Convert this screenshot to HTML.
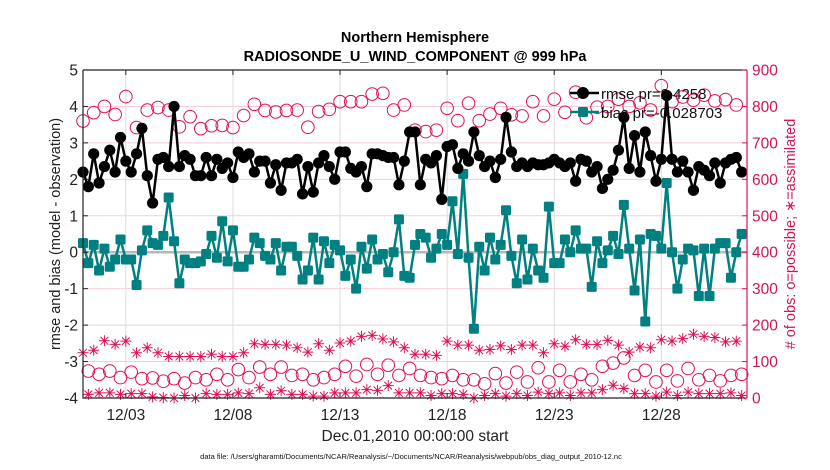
<!DOCTYPE html>
<html><head><meta charset="utf-8"><style>
html,body{margin:0;padding:0;background:#fff;}
svg{display:block;font-family:"Liberation Sans",sans-serif;}
</style></head><body>
<svg width="830" height="470" viewBox="0 0 830 470" id="chart">
<script>
// data (values only)
const xTickLabels=["12/03","12/08","12/13","12/18","12/23","12/28"];
const xTickDays=[3,8,13,18,23,28];
const yTicksLeft=[-4,-3,-2,-1,0,1,2,3,4,5];
const yTicksRight=[0,100,200,300,400,500,600,700,800,900];
const rmse=[2.2,1.8,2.7,1.9,2.35,2.8,2.2,3.15,2.5,2.2,2.7,3.4,2.1,1.35,2.55,2.6,2.35,4.0,2.35,2.65,2.55,2.1,2.1,2.6,2.1,2.55,2.3,2.45,2.05,2.75,2.6,2.7,2.2,2.5,2.5,1.9,2.4,1.7,2.45,
2.45,2.55,1.6,2.35,1.65,2.45,2.65,2.35,2.0,2.75,2.75,2.3,2.2,2.35,1.8,2.7,2.7,2.65,2.6,2.6,1.85,2.5,3.3,3.3,1.85,2.55,2.45,2.65,1.45,2.9,2.95,2.3,2.7,2.5,3.3,2.65,2.35,2.5,2.05,2.55,3.7,2.75,2.35,
2.45,2.35,2.45,2.4,2.4,2.45,2.55,2.45,2.35,2.45,1.95,2.55,2.5,2.2,2.35,1.75,2.0,2.25,2.8,3.7,2.3,3.2,2.2,3.3,2.65,1.95,2.55,4.3,2.55,2.2,2.5,2.2,1.7,2.35,2.25,2.1,2.45,1.9,2.45,2.55,2.6,2.2];
const bias=[0.25,-0.3,0.2,-0.5,0.1,-0.4,-0.2,0.35,-0.2,-0.2,-0.9,0.05,0.6,0.25,0.2,0.45,1.5,0.3,-0.85,-0.2,-0.3,-0.3,-0.25,-0.05,0.45,-0.15,0.85,-0.25,0.6,-0.4,-0.4,-0.2,0.4,0.25,-0.1,-0.2,0.25,-0.5,0.15,
0.15,-0.1,-0.75,-0.5,0.4,-0.75,0.3,-0.3,0.2,0.05,-0.65,-0.2,-1.0,0.15,-0.45,0.35,-0.2,-0.05,-0.55,0.0,0.9,-0.65,-0.7,0.2,0.5,0.4,-0.15,0.1,0.5,0.2,1.4,-0.05,2.15,-0.15,-2.1,0.15,-0.5,0.4,-0.2,0.2,1.15,-0.1,-0.85,
0.35,-0.75,0.1,-0.5,-0.7,1.25,-0.3,-0.3,0.35,0.0,0.6,0.1,0.1,-0.95,0.3,-0.3,0.05,0.45,-0.05,1.3,0.1,-1.05,0.35,-1.9,0.5,0.45,0.1,1.9,0.0,-1.0,-0.2,0.1,0.05,-1.2,0.1,-1.2,0.1,0.25,0.25,-0.7,0.0,0.5];
// counts at 00Z/12Z (even steps) and 06Z/18Z (odd steps)
const possibleSynoptic=[760,783,800,778,827,742,790,797,790,744,772,739,747,748,742,775,806,789,785,789,
790,743,786,792,813,813,813,834,836,790,804,735,731,735,795,761,809,761,779,795,777,
774,813,774,820,784,839,769,798,800,820,800,810,790,857,813,826,817,831,815,819,804];
const possibleOff=[74,65,74,56,71,53,55,46,53,41,56,50,65,50,78,56,85,65,85,
62,65,50,56,65,87,60,92,65,90,62,81,62,56,53,62,50,50,39,67,41,71,
44,83,44,76,44,65,50,87,96,110,62,76,44,76,47,81,50,62,47,62,65];
const assimSynoptic=[124,131,157,147,156,124,138,124,114,114,114,114,120,114,114,124,149,147,147,145,
138,126,149,131,151,156,169,172,162,154,138,120,120,117,156,145,145,131,133,143,133,
145,145,124,149,142,160,147,147,158,145,126,140,138,160,156,163,175,169,166,154,156];
const assimOff=[10,14,14,10,12,12,3,1,0,7,0,12,10,10,14,12,28,10,20,
10,10,5,5,14,14,14,23,21,34,14,14,14,7,12,12,10,0,7,12,5,12,
7,16,12,14,7,14,14,23,35,26,12,12,5,16,7,16,12,12,12,14,7];
</script>
<g id="g-grid"></g>
<g id="g-series"></g>
<g id="g-axes"></g>
<text x="415" y="42" text-anchor="middle" font-size="14.5" font-weight="bold">Northern Hemisphere</text>
<text x="415" y="61" text-anchor="middle" font-size="14.5" font-weight="bold">RADIOSONDE_U_WIND_COMPONENT @ 999 hPa</text>
<text transform="translate(60,234) rotate(-90)" text-anchor="middle" font-size="14.5" fill="#222">rmse and bias (model - observation)</text>
<text transform="translate(795,234) rotate(-90)" text-anchor="middle" font-size="14.5" fill="#d4145a"># of obs: o=possible; ∗=assimilated</text>
<text x="415" y="441" text-anchor="middle" font-size="15.5" fill="#222">Dec.01,2010 00:00:00 start</text>
<text x="411" y="459" text-anchor="middle" font-size="7.5" fill="#111">data file: /Users/gharamti/Documents/NCAR/Reanalysis/~/Documents/NCAR/Reanalysis/webpub/obs_diag_output_2010-12.nc</text>
<g id="g-marks-dummy"></g>
<script>
const NS="http://www.w3.org/2000/svg";
const L=83,R=747,T=70,B=398;
const xs=d=>L+(d-1)*(R-L)/31;          // d = fractional day of December
const yl=v=>B-(v+4)*(B-T)/9;
const yr=v=>B-v*(B-T)/900;
const stepDay=i=>1+i*0.25;
function mk(tag,attrs,parent){const e=document.createElementNS(NS,tag);for(const k in attrs)e.setAttribute(k,attrs[k]);parent.appendChild(e);return e;}
const grid=document.getElementById('g-grid'),ser=document.getElementById('g-series'),ax=document.getElementById('g-axes');
mk('rect',{x:L,y:T,width:R-L,height:B-T,fill:'#fff'},grid);
yTicksRight.forEach(v=>{const l=mk('line',{x1:L,x2:R,y1:yr(v),y2:yr(v),stroke:'#f3cfdd','stroke-width':1},grid);

});
xTickDays.forEach(d=>{const l=mk('line',{x1:xs(d),x2:xs(d),y1:T,y2:B,stroke:'#dcdcdc','stroke-width':1},grid);

});
const z=mk('line',{x1:L,x2:R,y1:yl(0),y2:yl(0),stroke:'#b8b8b8','stroke-width':2.5},grid);


function star(cx,cy,g){const r=5.5;let d='';for(let k=0;k<4;k++){const a=k*Math.PI/4;d+=`M${cx-r*Math.cos(a)},${cy-r*Math.sin(a)}L${cx+r*Math.cos(a)},${cy+r*Math.sin(a)}`;}
const p=mk('path',{d:d,stroke:'#e0105a','stroke-width':1,fill:'none'},g);

}
function ring(cx,cy,g){const c=mk('circle',{cx:cx,cy:cy,r:6.3,fill:'none',stroke:'#e0105a','stroke-width':1},g);

}
possibleSynoptic.forEach((v,j)=>ring(xs(stepDay(2*j)),yr(v),ser));
possibleOff.forEach((v,j)=>ring(xs(stepDay(2*j+1)),yr(v),ser));
assimSynoptic.forEach((v,j)=>star(xs(stepDay(2*j)),yr(v),ser));
assimOff.forEach((v,j)=>star(xs(stepDay(2*j+1)),yr(v),ser));
const bp=mk('polyline',{points:bias.map((v,i)=>xs(stepDay(i))+','+yl(v)).join(' '),fill:'none',stroke:'#008080','stroke-width':2.5,'stroke-linejoin':'round'},ser);


bias.forEach((v,i)=>{const r=mk('rect',{x:xs(stepDay(i))-5,y:yl(v)-5,width:10,height:10,rx:1.5,fill:'#008080'},ser);

});
const rp=mk('polyline',{points:rmse.map((v,i)=>xs(stepDay(i))+','+yl(v)).join(' '),fill:'none',stroke:'#000','stroke-width':2.5,'stroke-linejoin':'round'},ser);


rmse.forEach((v,i)=>{const c=mk('circle',{cx:xs(stepDay(i)),cy:yl(v),r:5.6,fill:'#000'},ser);

});
const fr=mk('path',{d:`M${L},${T}H${R}M${L},${T}V${B}H${R}`,stroke:'#222','stroke-width':1.2,fill:'none'},ax);


const ra=mk('line',{x1:R,x2:R,y1:T,y2:B,stroke:'#e0105a','stroke-width':1.2},ax);


yTicksLeft.forEach(v=>{mk('line',{x1:L,x2:L+5,y1:yl(v),y2:yl(v),stroke:'#222'},ax);
const t=mk('text',{x:L-5,y:yl(v)+5.5,'text-anchor':'end','font-size':15.5,fill:'#222'},ax);t.textContent=v;

});
yTicksRight.forEach(v=>{mk('line',{x1:R-5,x2:R,y1:yr(v),y2:yr(v),stroke:'#e0105a'},ax);
const t=mk('text',{x:R+5,y:yr(v)+5.5,'font-size':15.5,fill:'#d4145a'},ax);t.textContent=v;

});
xTickDays.forEach((d,k)=>{mk('line',{x1:xs(d),x2:xs(d),y1:B,y2:B-5,stroke:'#222'},ax);mk('line',{x1:xs(d),x2:xs(d),y1:T,y2:T+5,stroke:'#222'},ax);
const t=mk('text',{x:xs(d),y:420,'text-anchor':'middle','font-size':15.5,fill:'#222'},ax);t.textContent=xTickLabels[k];

});
</script>
<g>
<g>
<line x1="570" y1="93" x2="599" y2="93" stroke="#000" stroke-width="2.5"/>
<circle cx="583" cy="93" r="6" fill="#000"/>
<text x="601" y="99" font-size="15" fill="#111">rmse pr=2.4258</text></g>
<g>
<line x1="570" y1="112" x2="599" y2="112" stroke="#008080" stroke-width="2.5"/>
<rect x="578" y="107" width="10" height="10" rx="1.5" fill="#008080"/>
<text x="601" y="118" font-size="15" fill="#111">bias pr=-0.028703</text></g>
</g>
</svg>
</body></html>
